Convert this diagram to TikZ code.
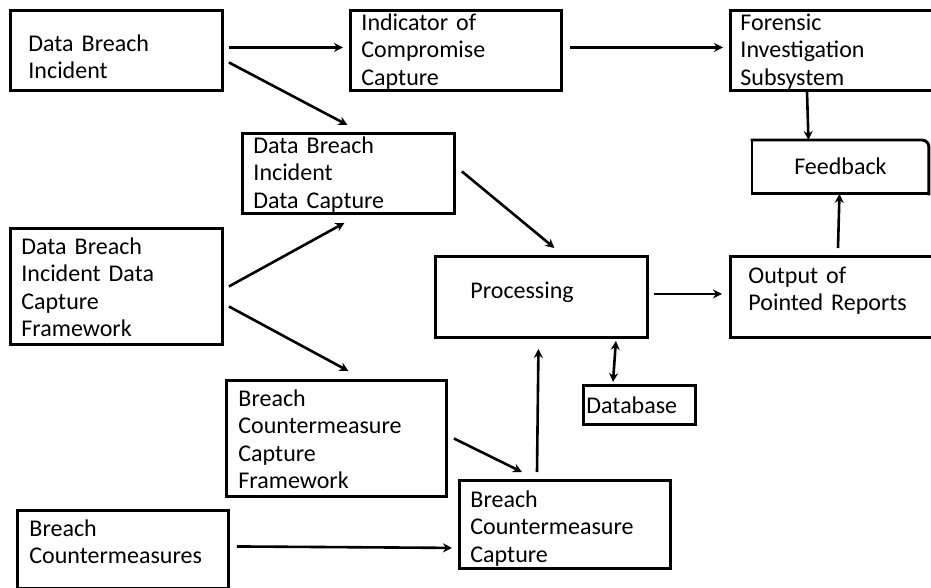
\documentclass[tikz,border=0pt]{standalone}
\usepackage{fontspec}
\setmainfont{Carlito}[WordSpace=0.7]
\usetikzlibrary{arrows.meta}

\tikzstyle{block} = [draw, line width=2.9pt, anchor=north west, align=left, inner ysep=0pt, font=\fontsize{24}{27.5}\selectfont]
\tikzstyle{link} = [draw, line width=2.6pt, -{Stealth[length=9pt,width=9pt]}]
\tikzstyle{both link} = [draw, line width=2.6pt, {Stealth[length=9pt,width=9pt]}-{Stealth[length=9pt,width=9pt]}]

\begin{document}
\begin{tikzpicture}[x=1pt, y=-1pt]
    \clip (0,0) rectangle (931,588);
    % Draw the boxes
    % First the top row
    \node[block, text width=176pt, inner xsep=18pt, text height=41pt, text depth=39pt] (inc) at (9,9) {Data Breach\\Incident};
    \node[block, text width=189pt, inner xsep=11pt, text height=20pt, text depth=60pt] (ioc) at (349,9) {Indicator of\\Compromise\\Capture};
    \node[block, text width=191pt, inner xsep=10pt, text height=20pt, text depth=60pt] (fis) at (729,9) {Forensic\\Investigation\\Subsystem};
    \node[block, draw=none, align=center, text width=174pt, inner xsep=0pt, text height=33pt, text depth=18pt] (fb) at (752,140) {Feedback};
    % Second the capture frameworks
    \node[block, text width=190pt, inner xsep=11pt, text height=20pt, text depth=60pt] (dcap) at (241,132) {Data Breach\\Incident\\Data Capture};
    \node[block, text width=190pt, inner xsep=11pt, text height=26pt, text depth=90pt] (dcf) at (9,227) {Data Breach\\Incident Data\\Capture\\Framework};
    \node[block, text width=196pt, inner xsep=12pt, text height=26pt, text depth=90pt] (bcf) at (225,379) {Breach\\Countermeasure\\Capture\\Framework};
    \node[block, text width=189pt, inner xsep=11pt, text height=27pt, text depth=61pt] (bcc) at (458,479) {Breach\\Countermeasure\\Capture};
    \node[block, text width=187pt, inner xsep=12pt, text height=26pt, text depth=52pt] (bcm) at (16,509) {Breach\\Countermeasures};
    % Then processing and output
    \node[block, text width=142pt, inner xsep=35pt, text height=42pt, text depth=39pt] (proc) at (434,255) {Processing};
    \node[block, text width=175pt, inner xsep=18pt, text height=27pt, text depth=54pt] (out) at (729,255) {Output of\\Pointed Reports};
    \node[block, text width=106pt, inner xsep=3pt, text height=28pt, text depth=11pt] (db) at (582,384) {Database};
    % Feedback box, one round corner
    \draw[line width=2.9pt, line cap=rect, rounded corners=7pt] (fb.north west) -- (fb.north east) -- (fb.south east);
    \draw[line width=2.9pt, line cap=rect] (fb.south east) -- (fb.south west) -- (fb.north west);
    % Connections
    \path[link, shorten <=5pt, shorten >=6pt] ([yshift=3pt]inc.east) -- ([yshift=3pt]ioc.west);
    \path[link, shorten <=7pt, shorten >=6pt] ([yshift=3pt]ioc.east) -- ([yshift=3pt]fis.west);
    \path[link] ([xshift=5pt,yshift=-12pt]inc.east) -- ([xshift=-1pt,yshift=7pt]dcap.north);
    \path[link] ([xshift=5pt]dcf.east) -- ([xshift=-4pt,yshift=-8pt]dcap.south);
    \path[link] ([xshift=6pt,yshift=2pt]dcap.east) -- ([xshift=13pt,yshift=7pt]proc.north);
    \path[link] ([xshift=78pt]fis.south west) -- ([xshift=-32pt]fb.north);
    \path[link] ([xshift=109pt,yshift=7pt]out.north west) -- ([xshift=-1pt]fb.south);
    \path[link, shorten <=5pt, shorten >=7pt] ([yshift=3pt]proc.east) -- ([yshift=3pt]out.west);
    \path[both link] ([xshift=-33pt,yshift=-2pt]proc.south east) -- ([xshift=31pt,yshift=2pt]db.north west);
    \path[link] ([xshift=5pt,yshift=-20pt]dcf.east) -- ([xshift=12pt,yshift=8pt]bcf.north);
    \path[link] ([xshift=6pt]bcf.east) -- ([xshift=64pt,yshift=7pt]bcc.north west);
    \path[link] ([xshift=79pt,yshift=7pt]bcc.north west) -- ([xshift=-3pt,yshift=-10pt]proc.south);
    \path[link] ([xshift=7pt,yshift=3pt]bcm.east) -- ([xshift=-6pt,yshift=22pt]bcc.south west);
\end{tikzpicture}
\end{document}
